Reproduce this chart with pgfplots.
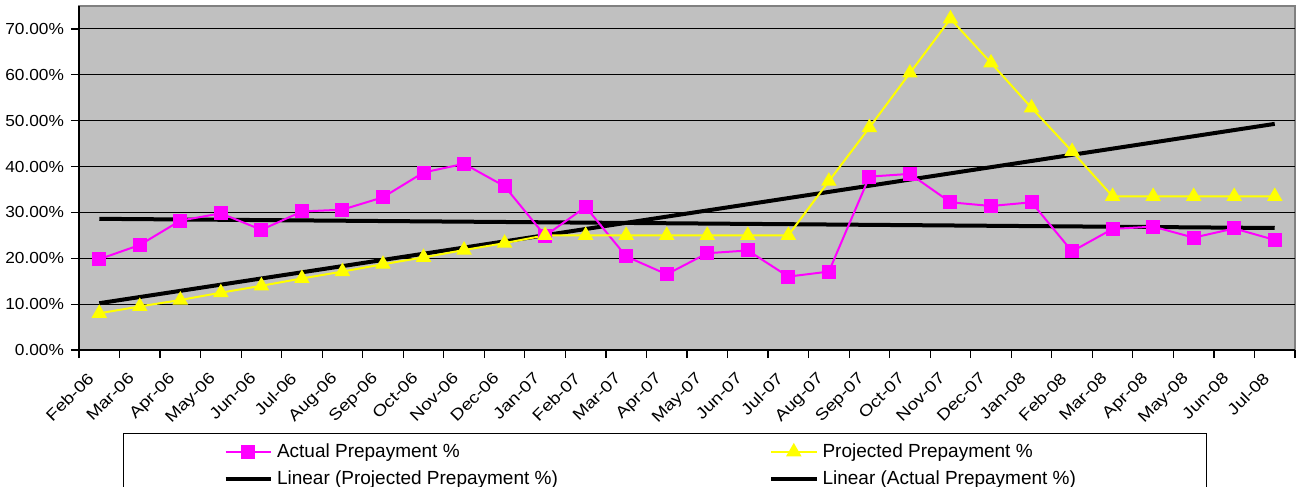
\documentclass[border=0pt]{standalone}
\usepackage{pgfplots}
\usepackage{pgfplotstable}
\pgfplotsset{compat=1.18}
\usepackage{fontspec}
\setmainfont{Liberation Sans}
\newfontfamily\tickfont{Liberation Sans}[FakeStretch=1.18]
\newfontfamily\ytickfont{Liberation Sans}[FakeStretch=1.08]
\definecolor{plotbg}{HTML}{C0C0C0}
\definecolor{mag}{HTML}{FF00FF}
\definecolor{yel}{HTML}{FFFF00}

\pgfplotstableread{
x actual projected
0 0.198 0.080
1 0.229 0.095
2 0.282 0.109
3 0.298 0.125
4 0.262 0.140
5 0.302 0.156
6 0.306 0.171
7 0.333 0.187
8 0.387 0.202
9 0.406 0.218
10 0.357 0.233
11 0.249 0.250
12 0.312 0.250
13 0.204 0.250
14 0.165 0.250
15 0.211 0.250
16 0.217 0.250
17 0.160 0.250
18 0.171 0.368
19 0.378 0.485
20 0.384 0.604
21 0.322 0.722
22 0.314 0.626
23 0.322 0.528
24 0.215 0.433
25 0.264 0.335
26 0.269 0.335
27 0.245 0.335
28 0.265 0.335
29 0.240 0.335
}\datatable

\pgfplotstableread{
x trendproj trendact
0 0.102 0.286
29 0.493 0.266
}\trendtable

\begin{document}
\begin{tikzpicture}
\begin{axis}[
  scale only axis,
  width=608pt, height=172pt,
  xmin=-0.5, xmax=29.5, ymin=0, ymax=0.75,
  axis background/.style={fill=plotbg, draw=gray, line width=0.6pt},
  axis x line*=bottom, axis y line*=left,
  axis line style={-, black, line width=0.8pt},
  xtick={0,...,29},
  xticklabels={Feb-06,Mar-06,Apr-06,May-06,Jun-06,Jul-06,Aug-06,Sep-06,Oct-06,Nov-06,Dec-06,Jan-07,Feb-07,Mar-07,Apr-07,May-07,Jun-07,Jul-07,Aug-07,Sep-07,Oct-07,Nov-07,Dec-07,Jan-08,Feb-08,Mar-08,Apr-08,May-08,Jun-08,Jul-08},
  major x tick style={draw=none},
  minor xtick={-0.5,0.5,...,29.5},
  tick align=outside,
  tick style={black, line width=0.6pt},
  major tick length=4pt, minor tick length=4pt,
  ytick={0,0.1,0.2,0.3,0.4,0.5,0.6,0.7},
  yticklabels={0.00\%,10.00\%,20.00\%,30.00\%,40.00\%,50.00\%,60.00\%,70.00\%},
  ymajorgrids,
  major grid style={black, line width=0.5pt},
  xticklabel style={xshift=-6.3pt, yshift=-6.5pt, rotate=45, anchor=north east, font=\tickfont\fontsize{8}{10}\selectfont, inner sep=0pt},
  yticklabel style={font=\ytickfont\fontsize{8}{10}\selectfont},
  legend columns=2,
  legend cell align=left,
  legend image code/.code={\draw[mark repeat=2,mark phase=2] plot coordinates {(0cm,0cm) (0.4cm,0cm) (0.8cm,0cm)};},
  legend style={at={(0.0362,-0.2413)}, anchor=north west, draw=black, line width=0.5pt, fill=white,
    font=\fontsize{9.5}{11}\selectfont, inner xsep=50pt, inner ysep=3pt,
    /tikz/every even column/.append style={column sep=0pt}, row sep=1pt},
]
\addlegendimage{mag, line width=1pt, mark=square*, mark size=3pt, mark options={solid, fill=mag, draw=mag}}
\addlegendentry{\makebox[244pt][l]{Actual Prepayment \%}}
\addlegendimage{yel, line width=1pt, mark=triangle*, mark size=3.5pt, mark options={solid, fill=yel, draw=yel}}
\addlegendentry{\makebox[140pt][l]{Projected Prepayment \%}}
\addlegendimage{black, line width=2pt}
\addlegendentry{\makebox[244pt][l]{Linear (Projected Prepayment \%)}}
\addlegendimage{black, line width=2pt}
\addlegendentry{\makebox[140pt][l]{Linear (Actual Prepayment \%)}}

\addplot[forget plot, black, line width=2pt] table[x=x, y=trendproj] {\trendtable};
\addplot[forget plot, black, line width=2pt] table[x=x, y=trendact] {\trendtable};
\addplot[forget plot, mag, line width=1pt, mark=square*, mark size=3pt, mark options={solid, fill=mag, draw=mag}] table[x=x, y=actual] {\datatable};
\addplot[forget plot, yel, line width=1pt, mark=triangle*, mark size=3.5pt, mark options={solid, fill=yel, draw=yel}] table[x=x, y=projected] {\datatable};
\end{axis}
\pgfresetboundingbox
\path[use as bounding box] (-39.5pt,-68.5pt) rectangle (608.5pt,175pt);
\end{tikzpicture}
\end{document}
